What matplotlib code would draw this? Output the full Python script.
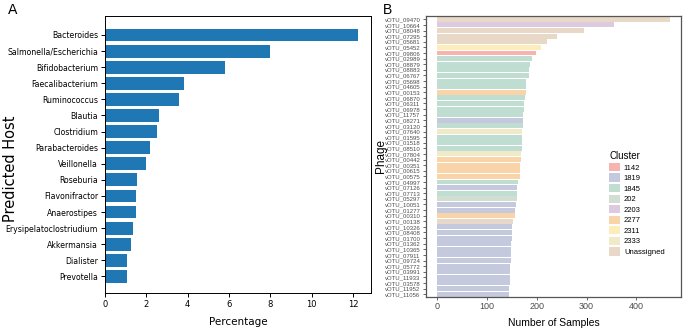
import numpy as np
import matplotlib
matplotlib.use('Agg')
import matplotlib.pyplot as plt
from matplotlib.patches import Patch

# Panel A data
hosts = ['Bacteroides', 'Salmonella/Escherichia', 'Bifidobacterium', 'Faecalibacterium',
         'Ruminococcus', 'Blautia', 'Clostridium', 'Parabacteroides', 'Veillonella',
         'Roseburia', 'Flavonifractor', 'Anaerostipes', 'Erysipelatoclostriudium',
         'Akkermansia', 'Dialister', 'Prevotella']
host_pct = [12.25, 8.0, 5.8, 3.8, 3.6, 2.6, 2.5, 2.16, 1.96, 1.56, 1.48, 1.48, 1.35, 1.26, 1.08, 1.06]

# Panel B data
phages = ['09470', '10664', '08048', '07295', '05681', '05452', '09806', '02989', '08879', '08883',
          '06767', '05698', '04605', '00153', '06870', '06311', '06978', '11757', '08271', '03120',
          '07640', '01595', '01518', '08510', '07804', '00442', '00351', '00615', '00575', '04997',
          '07126', '07713', '05297', '10051', '01277', '00310', '00138', '10326', '08408', '01700',
          '01362', '10365', '07911', '09724', '05772', '03991', '11933', '03578', '11952', '11056']
phages = ['vOTU_' + p for p in phages]
samples = [467, 355, 294, 240, 221, 208, 199, 190, 186, 185,
           185, 179, 179, 178, 176, 175, 174, 172, 172, 172,
           171, 171, 171, 170, 168, 168, 167, 167, 167, 162,
           161, 160, 160, 159, 157, 157, 153, 150, 150, 150,
           149, 148, 147, 147, 146, 146, 146, 145, 144, 143]
clusters = ['Unassigned', '2203', 'Unassigned', 'Unassigned', 'Unassigned', '2311', '1142', '1845', '1845', '1845',
            '1845', '1845', '1845', '2277', '1845', '1845', '1845', '1845', '1819', '1845',
            '2333', '1845', '1845', '1845', '2333', '2277', '2277', '2277', '2277', '1845',
            '1819', '1845', '202', '1819', '1819', '2277', 'Unassigned', '1819', '1819', '1819',
            '1819', '1819', '1819', '1819', '1819', '1819', '1819', '1819', '1819', '1819']
cluster_names = ['1142', '1819', '1845', '202', '2203', '2277', '2311', '2333', 'Unassigned']
cluster_colors = ['#F9B3AE', '#C5C9DD', '#BFDDD0', '#D3DED2', '#DDCADE',
                  '#F9D4A9', '#FCEDBA', '#F1EAC9', '#E8D8C8']
cmap = dict(zip(cluster_names, cluster_colors))

fig = plt.figure(figsize=(6.85, 3.29), dpi=100)

#### Panel A
ax1 = fig.add_axes([105/685, 1-293/329, 266/685, 277/329])
ypos = np.arange(len(hosts))
ax1.barh(ypos, host_pct, height=0.8, color='#1f77b4')
ax1.set_yticks(ypos)
ax1.set_yticklabels(hosts, fontsize=5.6)
ax1.set_ylim(len(hosts) - 1 + 1.03, -1.18)
ax1.set_xticks([0, 2, 4, 6, 8, 10, 12])
ax1.tick_params(axis='x', labelsize=6, length=3, width=0.7, pad=2)
ax1.tick_params(axis='y', length=3, width=0.7, pad=2)
for s in ax1.spines.values():
    s.set_linewidth(0.7)
ax1.set_xlabel('Percentage', fontsize=7.5)
ax1.xaxis.set_label_coords(0.5, -0.105)
ax1.xaxis.label.set_verticalalignment('center')
ax1.set_ylabel('Predicted Host', fontsize=10.5)
ax1.yaxis.set_label_coords(-0.357, 0.45)
ax1.yaxis.label.set_verticalalignment('center')
fig.text(13/685, 1-10/329, 'A', fontsize=10, ha='center', va='center')

#### Panel B
hfont = 'Liberation Sans'
ax2 = fig.add_axes([426/685, 1-296.7/329, 255/685, 281/329])
ypos2 = np.arange(len(phages))
ax2.barh(ypos2, samples, height=0.88, color=[cmap[c] for c in clusters])
ax2.set_yticks(ypos2)
ax2.set_yticklabels(phages, fontsize=4.3, color='#4D4D4D', family=hfont)
ax2.set_ylim(len(phages) - 1 + 0.45, -0.65)
ax2.set_xlim(-23, 490)
ax2.set_xticks([0, 100, 200, 300, 400])
ax2.set_xticklabels(['0', '100', '200', '300', '400'], family=hfont, color='#4D4D4D', fontsize=6.5)
ax2.tick_params(axis='both', color='#4D4D4D', length=2.5, width=0.6, pad=1.5)
for s in ax2.spines.values():
    s.set_linewidth(0.9)
    s.set_color('#555555')
ax2.set_xlabel('Number of Samples', fontsize=7.5, family=hfont)
ax2.xaxis.set_label_coords(0.5, -0.095)
ax2.xaxis.label.set_verticalalignment('center')
ax2.set_ylabel('Phage', fontsize=8.5, family=hfont)
ax2.yaxis.set_label_coords(-0.176, 0.5)
ax2.yaxis.label.set_verticalalignment('center')
fig.text(388/685, 1-10/329, 'B', fontsize=10, ha='center', va='center', family=hfont)

handles = [Patch(facecolor=c, edgecolor='none') for c in cluster_colors]
leg = ax2.legend(handles, cluster_names, loc='upper left', bbox_to_anchor=(609/685, 1-151/329),
                 bbox_transform=fig.transFigure, frameon=False, title='Cluster',
                 prop={'family': hfont, 'size': 5.5}, title_fontproperties={'family': hfont, 'size': 7},
                 handlelength=1.45, handleheight=1.3, labelspacing=0.24, handletextpad=0.5,
                 borderpad=0, borderaxespad=0, alignment='left')

plt.savefig('out.png', dpi=100)
